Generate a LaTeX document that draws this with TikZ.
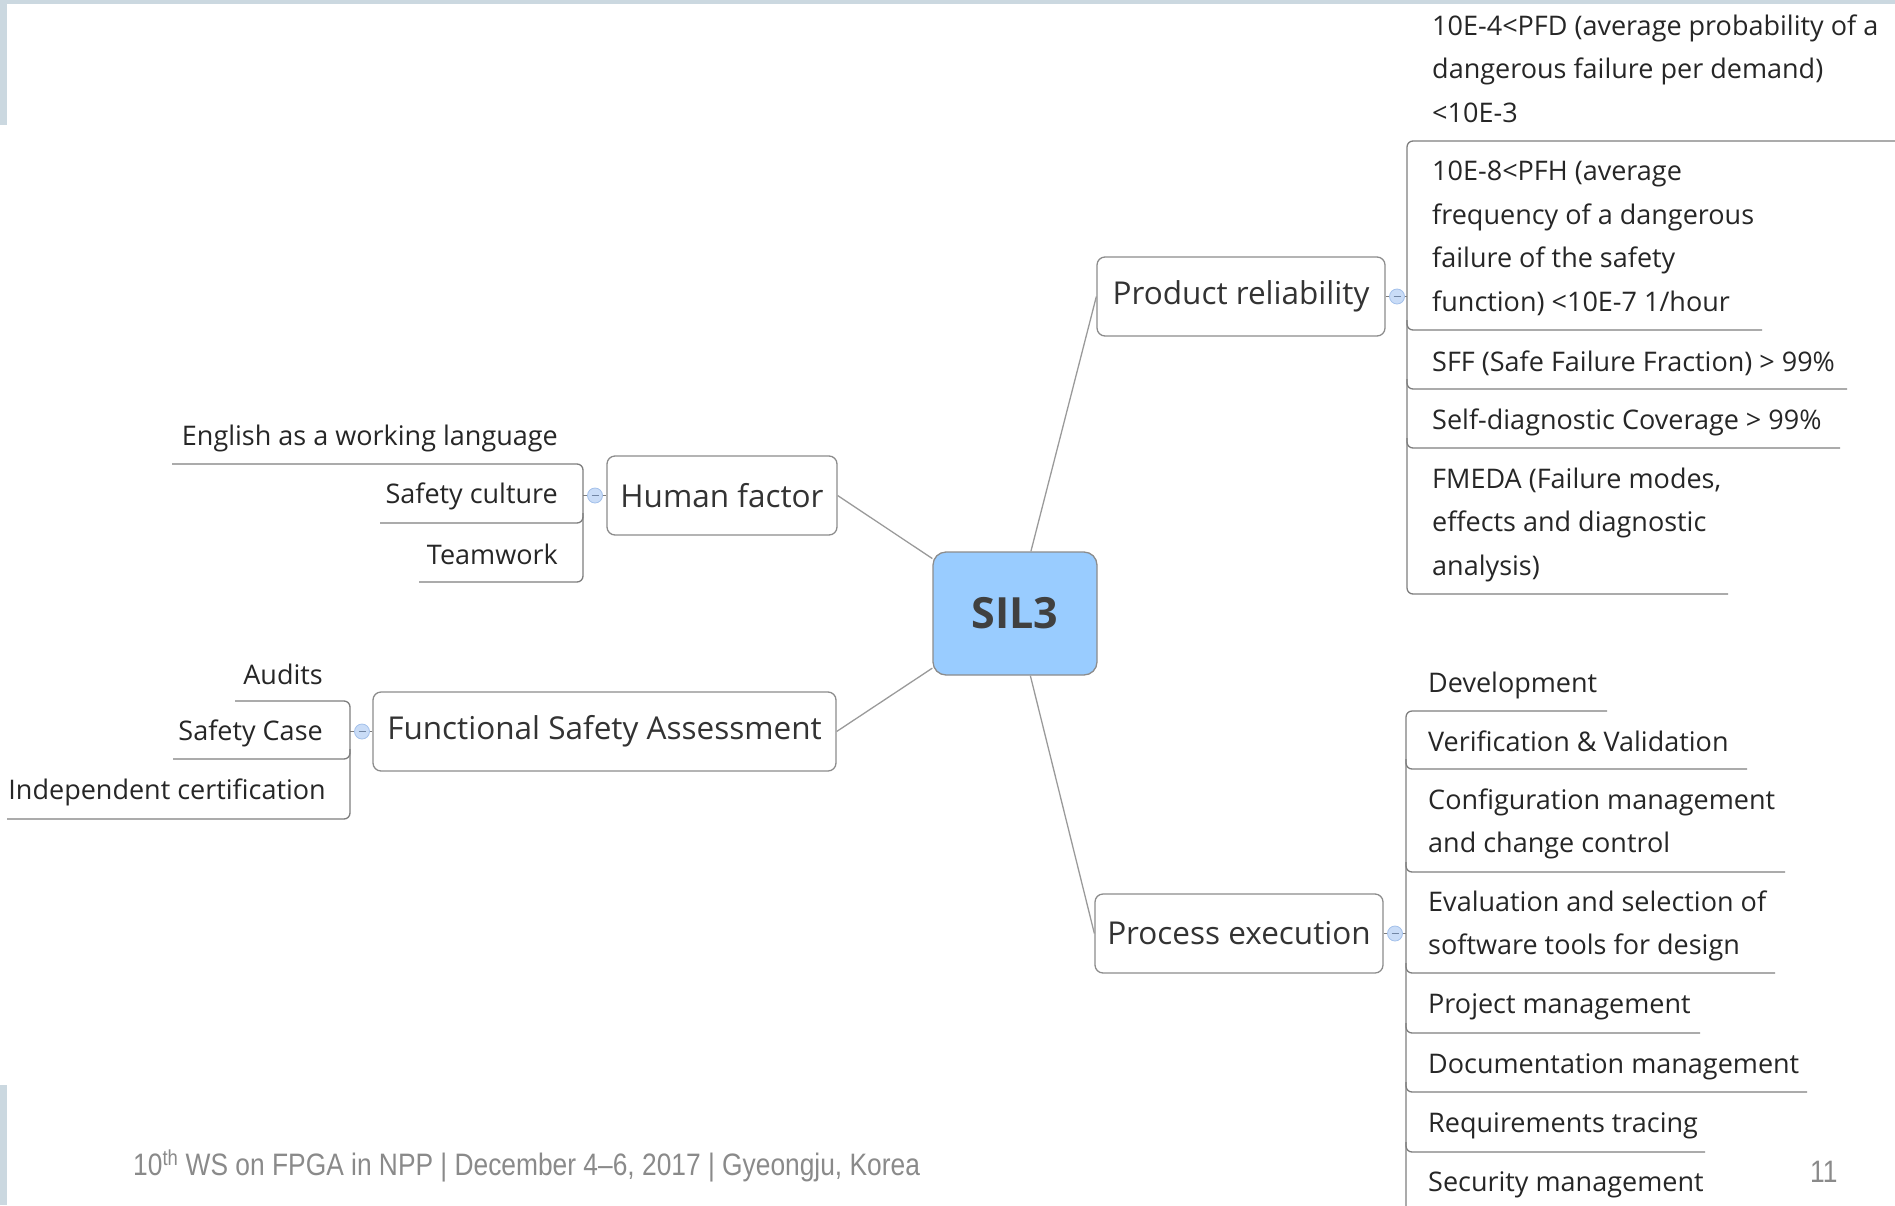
\documentclass[tikz,border=0pt]{standalone}
\usepackage{fontspec}
\setmainfont{Open Sans}
\newfontfamily\footfont[FakeStretch=0.85]{Liberation Sans}
\definecolor{barcol}{HTML}{CBD8E0}
\definecolor{boxgray}{HTML}{8C8C8C}
\definecolor{linegray}{HTML}{7E7E7E}
\definecolor{linkgray}{HTML}{9A9A9A}
\definecolor{corefill}{HTML}{99CCFF}
\definecolor{coretext}{HTML}{404040}
\definecolor{topictext}{HTML}{333333}
\definecolor{leaftext}{HTML}{262626}
\definecolor{foldfill}{HTML}{C9DCF7}
\definecolor{foldedge}{HTML}{A3C0EA}
\definecolor{foottext}{HTML}{8A8A8A}
\begin{document}
\begin{tikzpicture}[x=1pt,y=-1pt,
  topic/.style={draw=boxgray, line width=1.3pt, rounded corners=8pt, fill=white,
    minimum height=79pt, inner xsep=2pt, text=topictext,
    font=\fontsize{31.5}{38}\selectfont},
  core/.style={draw=boxgray, line width=1.3pt, rounded corners=13pt, fill=corefill,
    minimum width=164pt, minimum height=123pt, text=coretext,
    font=\fontsize{43}{48}\selectfont\bfseries},
  leaf/.style={inner sep=0pt, text=leaftext, font=\fontsize{27}{43.5}\selectfont,
    align=left, anchor=base west},
  leafr/.style={leaf, align=right, anchor=base east},
  branch/.style={draw=linegray, line width=1.3pt, rounded corners=6pt},
  link/.style={draw=linkgray, line width=1.3pt},
  fold/.style={circle, draw=foldedge, fill=foldfill, line width=0.8pt,
    minimum size=15pt, inner sep=0pt},
  footer/.style={inner sep=0pt, text=foottext, font=\footfont\fontsize{31}{36}\selectfont}
]
\useasboundingbox (0,0) rectangle (1895,1205);

% slide frame accents
\fill[barcol] (0,0) rectangle (1895,4);
\fill[barcol] (0,0) rectangle (7,125);
\fill[barcol] (0,1085) rectangle (7,1205);

% central and main topics
\node[core] (sil) at (1015,613.5) {SIL3};
\node[topic, minimum width=288pt] (pr) at (1241,296.5) {Product reliability};
\node[topic, minimum width=230pt] (hf) at (722,495.5) {Human factor};
\node[topic, minimum width=463pt] (fsa) at (604.5,731.5) {Functional Safety Assessment};
\node[topic, minimum width=288pt] (pe) at (1239,933.5) {Process execution};

\draw[link] (sil) -- (pr.west);
\draw[link] (sil) -- (hf.east);
\draw[link] (sil) -- (fsa.east);
\draw[link] (sil) -- (pe.west);

% ---- Product reliability branch (multi-line leaves are placed by their last baseline)
\coordinate (prb) at (1407,296.5);
\draw[branch] (pr.east) -- (prb);
\node[fold] (prf) at (1397,296.5) {};
\draw[foldedge!70!black, line width=0.8pt] ([xshift=-3.5pt]prf.center) -- ([xshift=3.5pt]prf.center);
\draw[branch] (1895,141) -- (1407,141) -- (1407,594) -- (1728,594);
\draw[branch] (1407,320) |- (1762,330);
\draw[branch] (1407,379) |- (1847,389);
\draw[branch] (1407,438) |- (1840,448);

\node[leaf] (pfd) at (1432,122) {10E-4<PFD (average probability of a\\dangerous failure per demand)\\<10E-3};
\node[leaf] (pfh) at (1432,311) {10E-8<PFH (average\\frequency of a dangerous\\failure of the safety\\function) <10E-7 1/hour};
\node[leaf] (sff) at (1432,371) {SFF (Safe Failure Fraction) > 99\%};
\node[leaf] (sdc) at (1432,429) {Self-diagnostic Coverage > 99\%};
\node[leaf] (fmeda) at (1432,575) {FMEDA (Failure modes,\\effects and diagnostic\\analysis)};

% ---- Process execution branch
\coordinate (peb) at (1406,933.5);
\draw[branch] (pe.east) -- (peb);
\node[fold] (pef) at (1395,933.5) {};
\draw[foldedge!70!black, line width=0.8pt] ([xshift=-3.5pt]pef.center) -- ([xshift=3.5pt]pef.center);
\draw[branch] (1607,711) -- (1406,711) -- (1406,1210);
\draw[branch] (1406,759) |- (1747,769);
\draw[branch] (1406,862) |- (1785,872);
\draw[branch] (1406,963) |- (1775,973);
\draw[branch] (1406,1023) |- (1700,1033);
\draw[branch] (1406,1082) |- (1807,1092);
\draw[branch] (1406,1142) |- (1705,1152);

\node[leaf] (dev) at (1428,692) {Development};
\node[leaf] (vv) at (1428,751) {Verification \& Validation};
\node[leaf] (cfg) at (1428,852.5) {Configuration management\\and change control};
\node[leaf] (evl) at (1428,954.5) {Evaluation and selection of\\software tools for design};
\node[leaf] (pm) at (1428,1013) {Project management};
\node[leaf] (doc) at (1428,1073) {Documentation management};
\node[leaf] (req) at (1428,1132) {Requirements tracing};
\node[leaf] (sec) at (1428,1191) {Security management};

% ---- Human factor branch
\coordinate (hfb) at (583,495.5);
\draw[branch] (hf.west) -- (hfb);
\node[fold] (hff) at (595,495.5) {};
\draw[foldedge!70!black, line width=0.8pt] ([xshift=-3.5pt]hff.center) -- ([xshift=3.5pt]hff.center);
\draw[branch] (172,464) -- (583,464) -- (583,582) -- (419,582);
\draw[branch] (583,513) |- (380,523);

\node[leafr] (eng) at (558,445) {English as a working language};
\node[leafr] (sc) at (558,503) {Safety culture};
\node[leafr] (tw) at (558,564) {Teamwork};

% ---- Functional Safety Assessment branch
\coordinate (fsab) at (350,731.5);
\draw[branch] (fsa.west) -- (fsab);
\node[fold] (fsaf) at (362,731.5) {};
\draw[foldedge!70!black, line width=0.8pt] ([xshift=-3.5pt]fsaf.center) -- ([xshift=3.5pt]fsaf.center);
\draw[branch] (235,701) -- (350,701) -- (350,819) -- (7,819);
\draw[branch] (350,749) |- (173,759);

\node[leafr] (aud) at (323,684) {Audits};
\node[leafr] (scase) at (323,740) {Safety Case};
\node[leafr] (cert) at (326,799) {Independent certification};

% ---- footer
\node[footer, anchor=base west] (foot) at (133,1175) {10\textsuperscript{th} WS on FPGA in NPP | December 4–6, 2017 | Gyeongju, Korea};
\node[footer, anchor=base west] (page) at (1810,1182) {11};
\end{tikzpicture}
\end{document}
